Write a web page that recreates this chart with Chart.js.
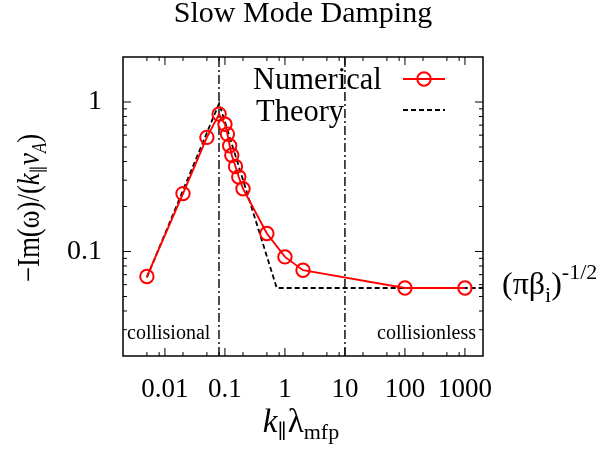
<!DOCTYPE html>
<html><head><meta charset="utf-8">
<script src="https://cdn.jsdelivr.net/npm/chart.js@4"></script>
<style>html,body{margin:0;padding:0;background:#fff;}</style>
</head><body>
<canvas id="c" width="604" height="456"></canvas>
<script>
// ---- data ----
const numX = [0.005, 0.02, 0.05, 0.08, 0.1, 0.11, 0.12, 0.13, 0.15, 0.17, 0.2, 0.5, 1, 2, 100, 1000];
const numY = [0.068, 0.244, 0.58, 0.83, 0.71, 0.61, 0.51, 0.44, 0.37, 0.315, 0.263, 0.132, 0.092, 0.075, 0.057, 0.057];
const theoryX = [0.005, 0.08, 0.73, 2000];
const theoryY = [0.067, 0.98, 0.057, 0.057];
const regimeLinesX = [0.0796, 10];
const xTickLabels = [0.01, 0.1, 1, 10, 100, 1000];
const yTickLabels = [0.1, 1];
const xMinorMult = [2, 5, 8];
const yMinorMult = [2, 3, 4, 5, 6, 7, 8, 9];
const xRange = [0.002, 2000];
const yRange = [0.02, 2];
const seriesNames = ['Numerical', 'Theory'];
const regimeLabels = ['collisional', 'collisionless'];
const titleText = 'Slow Mode Damping';

const SERIF = '"Liberation Serif", "DejaVu Serif", serif';
const RED = '#ff0000';

const toPts = (xs, ys) => xs.map((x, i) => ({x: x, y: ys[i]}));

const datasets = [
  { label: seriesNames[0], data: toPts(numX, numY), borderColor: RED, borderWidth: 1.9,
    pointRadius: 6.7, pointHoverRadius: 6.7, pointBorderWidth: 2, pointBorderColor: RED,
    pointBackgroundColor: 'rgba(0,0,0,0)', showLine: true, fill: false, tension: 0 },
  { label: seriesNames[1], data: toPts(theoryX, theoryY), borderColor: '#000', borderWidth: 1.8,
    borderDash: [5, 3], pointRadius: 0, showLine: true, fill: false, tension: 0 }
];
regimeLinesX.forEach(v => datasets.push({
  label: 'regime', data: [{x: v, y: yRange[0]}, {x: v, y: yRange[1]}], borderColor: '#000',
  borderWidth: 1.4, borderDash: [9, 3, 2, 3], pointRadius: 0, showLine: true, fill: false
}));

function drawRich(ctx, segs, x, y, align) {
  let w = 0;
  segs.forEach(s => { ctx.font = (s.it ? 'italic ' : '') + s.size + 'px ' + SERIF; s.w = ctx.measureText(s.t).width; w += s.w + (s.gap || 0); });
  let cx = align === 'center' ? x - w / 2 : (align === 'right' ? x - w : x);
  ctx.textAlign = 'left'; ctx.textBaseline = 'alphabetic'; ctx.fillStyle = '#000';
  segs.forEach(s => { ctx.font = (s.it ? 'italic ' : '') + s.size + 'px ' + SERIF; ctx.fillText(s.t, cx, y + (s.dy || 0)); cx += s.w + (s.gap || 0); });
}

const decor = {
  id: 'decor',
  afterDraw(chart) {
    const ctx = chart.ctx, a = chart.chartArea, xs = chart.scales.x, ys = chart.scales.y;
    ctx.save();
    // frame
    ctx.strokeStyle = '#000'; ctx.lineWidth = 1.5; ctx.setLineDash([]);
    ctx.strokeRect(a.left, a.top, a.right - a.left, a.bottom - a.top);
    // ticks (inward, mirrored)
    ctx.lineWidth = 1;
    const tickX = (v, len) => { const p = xs.getPixelForValue(v); if (p < a.left + 1 || p > a.right - 1) return;
      ctx.beginPath(); ctx.moveTo(p, a.bottom); ctx.lineTo(p, a.bottom - len); ctx.moveTo(p, a.top); ctx.lineTo(p, a.top + len); ctx.stroke(); };
    const tickY = (v, len) => { const p = ys.getPixelForValue(v); if (p < a.top + 1 || p > a.bottom - 1) return;
      ctx.beginPath(); ctx.moveTo(a.left, p); ctx.lineTo(a.left + len, p); ctx.moveTo(a.right, p); ctx.lineTo(a.right - len, p); ctx.stroke(); };
    for (let e = -3; e <= 3; e++) { const d = Math.pow(10, e); tickX(d, 8); xMinorMult.forEach(m => tickX(m * d, 4)); }
    for (let e = -2; e <= 0; e++) { const d = Math.pow(10, e); tickY(d, 8); yMinorMult.forEach(m => tickY(m * d, 4)); }
    // legend
    ctx.font = '30.5px ' + SERIF; ctx.fillStyle = '#000'; ctx.textAlign = 'left'; ctx.textBaseline = 'alphabetic';
    ctx.fillText(seriesNames[0], 253, 89);
    ctx.fillText(seriesNames[1], 256, 121);
    ctx.strokeStyle = RED; ctx.lineWidth = 1.9;
    ctx.beginPath(); ctx.moveTo(403, 79); ctx.lineTo(445, 79); ctx.stroke();
    ctx.lineWidth = 2; ctx.beginPath(); ctx.arc(424, 79, 6.7, 0, Math.PI * 2); ctx.stroke();
    ctx.strokeStyle = '#000'; ctx.lineWidth = 1.8; ctx.setLineDash([5, 3]);
    ctx.beginPath(); ctx.moveTo(403, 110); ctx.lineTo(445, 110); ctx.stroke();
    ctx.setLineDash([]);
    // regime labels
    ctx.font = '20px ' + SERIF; ctx.fillStyle = '#000';
    ctx.textAlign = 'left'; ctx.fillText(regimeLabels[0], a.left + 4, 339);
    ctx.textAlign = 'right'; ctx.fillText(regimeLabels[1], a.right - 7, 339);
    // title
    ctx.font = '30px ' + SERIF; ctx.textAlign = 'center'; ctx.fillText(titleText, 303, 22);
    // x axis title
    drawRich(ctx, [{t: 'k', size: 33, it: true}, {t: '\u2225', size: 20, dy: 6, gap: 1}, {t: '\u03bb', size: 33}, {t: 'mfp', size: 22, dy: 7}], 301, 432, 'center');
    // right annotation
    drawRich(ctx, [{t: '(\u03c0\u03b2', size: 32}, {t: 'i', size: 22, dy: 8}, {t: ')', size: 32}, {t: '-1/2', size: 22, dy: -15}], 502, 294, 'left');
    // y axis title (rotated, slightly condensed along its length as in the reference)
    ctx.save(); ctx.translate(39, 208); ctx.rotate(-Math.PI / 2); ctx.scale(0.84, 1);
    drawRich(ctx, [{t: '\u2212Im(\u03c9)/(', size: 32}, {t: 'k', size: 32, it: true}, {t: '\u2225', size: 19, dy: 6, gap: 1}, {t: 'v', size: 32, it: true}, {t: 'A', size: 20, it: true, dy: 7}, {t: ')', size: 32}], 0, 0, 'center');
    ctx.restore();
    ctx.restore();
  }
};

new Chart(document.getElementById('c'), {
  type: 'scatter',
  data: { datasets: datasets },
  options: {
    responsive: false, animation: false, devicePixelRatio: 1,
    layout: { padding: { top: 57, right: 121, left: 0, bottom: 0 } },
    plugins: { legend: { display: false }, title: { display: false }, tooltip: { enabled: false } },
    scales: {
      x: { type: 'logarithmic', position: 'bottom', min: xRange[0], max: xRange[1],
        afterBuildTicks: s => { s.ticks = xTickLabels.map(v => ({ value: v })); },
        afterFit: s => { s.height = 100; },
        grid: { display: false, drawTicks: false }, border: { display: false },
        ticks: { autoSkip: false, maxRotation: 0, minRotation: 0, padding: 18, color: '#000',
          font: { family: SERIF, size: 27 }, callback: v => String(v) } },
      y: { type: 'logarithmic', position: 'left', min: yRange[0], max: yRange[1],
        afterBuildTicks: s => { s.ticks = yTickLabels.map(v => ({ value: v })); },
        afterFit: s => { s.width = 123; },
        grid: { display: false, drawTicks: false }, border: { display: false },
        ticks: { autoSkip: false, padding: 21, color: '#000',
          font: { family: SERIF, size: 28 }, callback: v => String(v) } }
    }
  },
  plugins: [decor]
});
</script>
</body></html>
